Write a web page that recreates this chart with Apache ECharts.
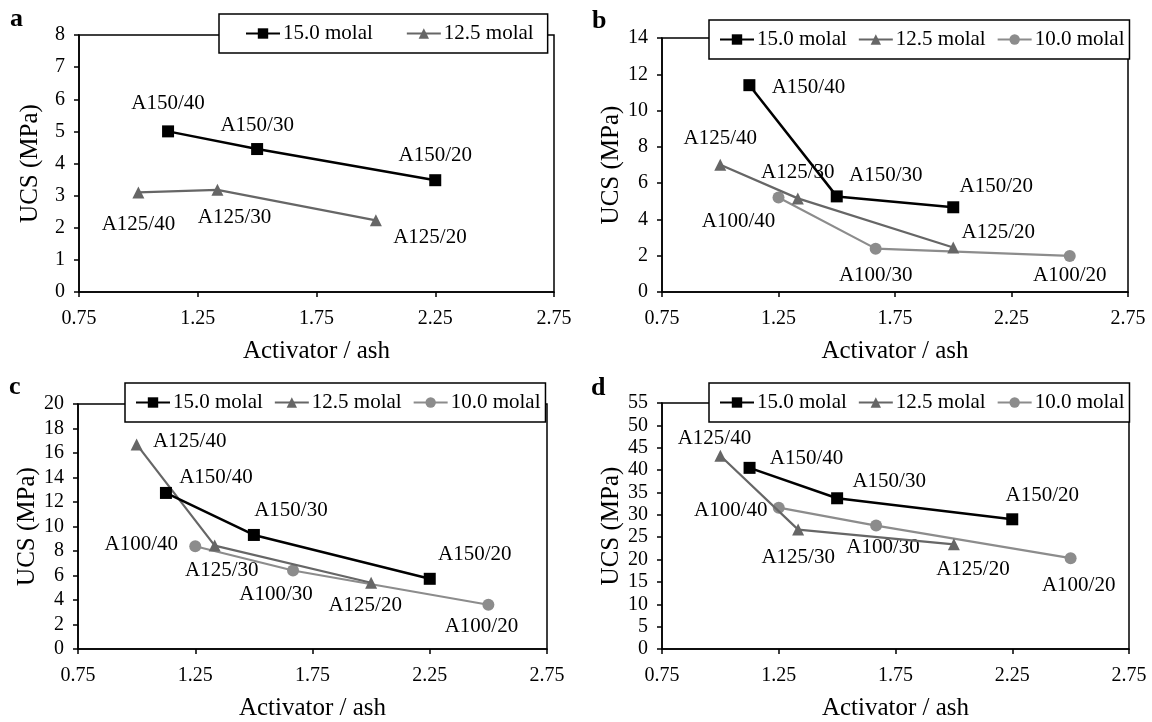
<!DOCTYPE html>
<html>
<head>
<meta charset="utf-8">
<script src="https://cdn.jsdelivr.net/npm/echarts@6/dist/echarts.min.js"></script>
<style>
html,body{margin:0;padding:0;background:#fff;}
#chart{width:1152px;height:722px;}
</style>
</head>
<body>
<div id="chart"></div>
<script>
// ---- data ----
const seriesNames = ['15.0 molal', '12.5 molal', '10.0 molal'];
const xTicks = [0.75, 1.25, 1.75, 2.25, 2.75];
const names15 = ['A150/40', 'A150/30', 'A150/20'];
const names125 = ['A125/40', 'A125/30', 'A125/20'];
const names10 = ['A100/40', 'A100/30', 'A100/20'];

// panel a
const aX15 = [1.125, 1.5, 2.25];
const aY15 = [5.0, 4.45, 3.48];
const aX125 = [1.0, 1.333, 2.0];
const aY125 = [3.1, 3.18, 2.23];
// panel b
const bX15 = [1.125, 1.5, 2.0];
const bY15 = [11.4, 5.27, 4.67];
const bX125 = [1.0, 1.333, 2.0];
const bY125 = [7.02, 5.16, 2.45];
const bX10 = [1.25, 1.667, 2.5];
const bY10 = [5.21, 2.39, 1.99];
// panel c
const cX15 = [1.125, 1.5, 2.25];
const cY15 = [12.74, 9.31, 5.73];
const cX125 = [1.0, 1.333, 2.0];
const cY125 = [16.7, 8.44, 5.41];
const cX10 = [1.25, 1.667, 2.5];
const cY10 = [8.39, 6.41, 3.61];
// panel d
const dX15 = [1.125, 1.5, 2.25];
const dY15 = [40.5, 33.7, 29.0];
const dX125 = [1.0, 1.333, 2.0];
const dY125 = [43.2, 26.7, 23.4];
const dX10 = [1.25, 1.667, 2.5];
const dY10 = [31.6, 27.6, 20.3];

// y-axis ranges per panel
const yMax = [8, 14, 20, 55];
const yStep = [1, 2, 2, 5];

// ---- layout (positions / styles) ----
const FONT = '"Liberation Serif", "Times New Roman", serif';
const grids = [
  {left: 79, top: 35, width: 475, height: 257},
  {left: 662, top: 38, width: 466, height: 254},
  {left: 78, top: 404, width: 469, height: 251},
  {left: 662, top: 403, width: 467, height: 251}
];
const legendBoxes = [
  {left: 219, top: 14, padding: [9, 14, 9, 26], itemGap: 33},
  {left: 709, top: 20, padding: [9, 5, 9, 10], itemGap: 11},
  {left: 125, top: 383, padding: [9, 5, 9, 10], itemGap: 11},
  {left: 709, top: 383, padding: [9, 5, 9, 10], itemGap: 11}
];
const labelOffsets = {
  a: {s15: [[0, -28], [0, -24], [0, -25]], s125: [[0, 32], [17, 28], [54, 17]]},
  b: {s15: [[59, 2], [49, -21], [43, -21]], s125: [[0, -26], [0, -26], [45, -15]], s10: [[-40, 24], [0, 27], [0, 20]]},
  c: {s15: [[50, -15], [37, -24], [45, -24]], s125: [[53, -3], [7, 25], [-6, 23]], s10: [[-54, -2], [-17, 24], [-7, 22]]},
  d: {s15: [[57, -9], [52, -17], [30, -24]], s125: [[-6, -17], [0, 28], [19, 25]], s10: [[-48, 3], [7, 22], [8, 27]]}
};
const styles = [
  {color: '#000000', symbol: 'rect', size: 12, width: 2.5},
  {color: '#666666', symbol: 'triangle', size: 12, width: 2.2},
  {color: '#8c8c8c', symbol: 'circle', size: 12, width: 2.2}
];

function mkSeries(idx, k, xs, ys, names, offs) {
  const st = styles[k];
  return {
    name: seriesNames[k],
    type: 'line',
    xAxisIndex: idx, yAxisIndex: idx,
    symbol: st.symbol, symbolSize: st.size,
    showAllSymbol: true,
    clip: false,
    itemStyle: {color: st.color},
    lineStyle: {color: st.color, width: st.width},
    label: {
      show: true, formatter: '{b}',
      color: '#000', fontFamily: FONT, fontSize: 21,
      align: 'center', verticalAlign: 'middle'
    },
    labelLayout: {hideOverlap: false},
    data: xs.map((x, i) => ({
      value: [x, ys[i]], name: names[i],
      label: {show: true, position: [st.size / 2 + offs[i][0], st.size / 2 + offs[i][1]],
        align: 'center', verticalAlign: 'middle'}
    })),
    z: 5 - k
  };
}

const series = [
  mkSeries(0, 0, aX15, aY15, names15, labelOffsets.a.s15),
  mkSeries(0, 1, aX125, aY125, names125, labelOffsets.a.s125),
  mkSeries(1, 0, bX15, bY15, names15, labelOffsets.b.s15),
  mkSeries(1, 1, bX125, bY125, names125, labelOffsets.b.s125),
  mkSeries(1, 2, bX10, bY10, names10, labelOffsets.b.s10),
  mkSeries(2, 0, cX15, cY15, names15, labelOffsets.c.s15),
  mkSeries(2, 1, cX125, cY125, names125, labelOffsets.c.s125),
  mkSeries(2, 2, cX10, cY10, names10, labelOffsets.c.s10),
  mkSeries(3, 0, dX15, dY15, names15, labelOffsets.d.s15),
  mkSeries(3, 1, dX125, dY125, names125, labelOffsets.d.s125),
  mkSeries(3, 2, dX10, dY10, names10, labelOffsets.d.s10)
];

const xAxes = grids.map((g, i) => ({
  type: 'value', gridIndex: i,
  min: xTicks[0], max: xTicks[xTicks.length - 1], interval: xTicks[1] - xTicks[0],
  name: 'Activator / ash', nameLocation: 'middle', nameGap: 47,
  nameTextStyle: {fontFamily: FONT, fontSize: 25, color: '#000'},
  axisLine: {show: true, lineStyle: {color: '#000', width: 1.5}},
  axisTick: {show: true, inside: false, length: 5, lineStyle: {color: '#000', width: 1.5}},
  axisLabel: {fontFamily: FONT, fontSize: 20, color: '#000', margin: 17,
    formatter: v => v.toFixed(2)},
  splitLine: {show: false}
}));
const yAxes = grids.map((g, i) => ({
  type: 'value', gridIndex: i,
  min: 0, max: yMax[i], interval: yStep[i],
  name: 'UCS (MPa)', nameLocation: 'middle', nameGap: 36, nameRotate: 90,
  nameTextStyle: {fontFamily: FONT, fontSize: 25, color: '#000'},
  axisLine: {show: true, lineStyle: {color: '#000', width: 1.5}},
  axisTick: {show: true, inside: false, length: 5, lineStyle: {color: '#000', width: 1.5}},
  axisLabel: {fontFamily: FONT, fontSize: 20, color: '#000', margin: 14},
  splitLine: {show: false}
}));

const legends = legendBoxes.map((lb, i) => ({
  data: i === 0 ? seriesNames.slice(0, 2) : seriesNames.slice(),
  left: lb.left, top: lb.top, orient: 'horizontal',
  padding: lb.padding, itemGap: lb.itemGap,
  itemWidth: 34, itemHeight: 13,
  backgroundColor: '#fff', borderColor: '#000', borderWidth: 1.5, borderRadius: 0,
  selectedMode: false,
  textStyle: {fontFamily: FONT, fontSize: 21, color: '#000', padding: [0, 0, 0, -2]},
  z: 10
}));

const letters = [
  {t: 'a', x: 10, y: 6}, {t: 'b', x: 592, y: 8}, {t: 'c', x: 9, y: 374}, {t: 'd', x: 591, y: 375}
];

const option = {
  backgroundColor: '#fff',
  animation: false,
  grid: grids.map(g => Object.assign({show: true, borderColor: '#000', borderWidth: 1.5, backgroundColor: 'transparent'}, g)),
  xAxis: xAxes,
  yAxis: yAxes,
  legend: legends,
  series: series,
  graphic: letters.map(l => ({
    type: 'text', left: l.x, top: l.y,
    style: {text: l.t, font: 'bold 26px ' + FONT, fill: '#000'}
  }))
};

const chart = echarts.init(document.getElementById('chart'), null, {renderer: 'canvas'});
chart.setOption(option);
</script>
</body>
</html>
